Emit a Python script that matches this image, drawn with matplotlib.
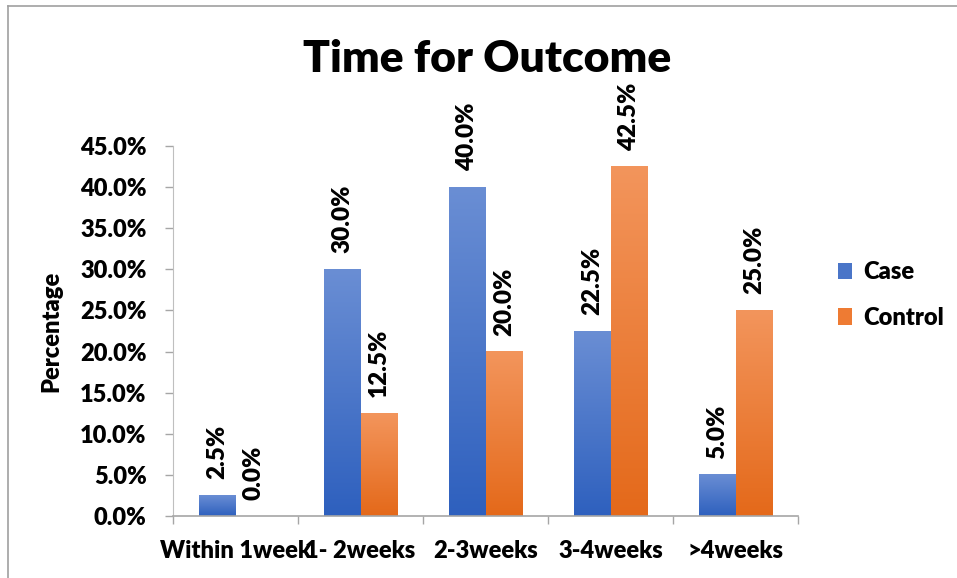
import numpy as np
import matplotlib
matplotlib.use("Agg")
import matplotlib.pyplot as plt
from matplotlib.colors import LinearSegmentedColormap
from matplotlib.patches import Patch
from matplotlib.lines import Line2D

categories = ["Within 1week", "1- 2weeks", "2-3weeks", "3-4weeks", ">4weeks"]
case_values = [0.025, 0.300, 0.400, 0.225, 0.050]
control_values = [0.000, 0.125, 0.200, 0.425, 0.250]
series_names = ["Case", "Control"]
y_ticks = [0.0, 0.05, 0.10, 0.15, 0.20, 0.25, 0.30, 0.35, 0.40, 0.45]

plt.rcParams["font.family"] = ["Lato", "DejaVu Sans"]
plt.rcParams["font.weight"] = "heavy"
W = "heavy"
FS = 17

fig = plt.figure(figsize=(9.57, 5.78), dpi=100)
ax = fig.add_axes([173 / 957, 1 - 516 / 578, (798 - 173) / 957, (516 - 146) / 578])

case_cmap = LinearSegmentedColormap.from_list("case", ["#2E60BE", "#6A8ED4"])
ctrl_cmap = LinearSegmentedColormap.from_list("ctrl", ["#E4691A", "#F3955C"])

bar_w = 0.292
x = np.arange(len(categories))
grad = np.linspace(0, 1, 256).reshape(-1, 1)

def gradient_bars(xs, heights, cmap):
    for xc, h in zip(xs, heights):
        if h <= 0:
            continue
        ax.imshow(grad, extent=[xc - bar_w / 2, xc + bar_w / 2, 0, h],
                  origin="lower", cmap=cmap, aspect="auto",
                  interpolation="bilinear", zorder=2)

gradient_bars(x - bar_w / 2, case_values, case_cmap)
gradient_bars(x + bar_w / 2, control_values, ctrl_cmap)

for xs, vals in ((x - bar_w / 2, case_values), (x + bar_w / 2, control_values)):
    for xc, v in zip(xs, vals):
        ax.annotate(f"{v * 100:.1f}%", xy=(xc, v), xytext=(0, 11.5),
                    textcoords="offset points", rotation=90,
                    ha="center", va="bottom", fontsize=FS + 0.5,
                    fontweight=W, color="black", zorder=3)

ax.set_xlim(-0.5, len(categories) - 0.5)
ax.set_ylim(0, 0.45)
ax.set_yticks(y_ticks)
ax.set_yticklabels([f"{t * 100:.1f}%" for t in y_ticks], fontweight=W)

ax.set_xticks(np.arange(-0.5, len(categories), 1))
ax.set_xticklabels([])
ax.set_xticks(x, minor=True)
ax.set_xticklabels(categories, minor=True, fontweight=W)
ax.tick_params(axis="x", which="major", length=6, width=1, color="#A6A6A6", direction="out")
ax.tick_params(axis="x", which="minor", length=0, pad=17, labelsize=FS)
ax.tick_params(axis="y", length=6, width=1, color="#A6A6A6", pad=13, labelsize=FS)

for side in ("top", "right"):
    ax.spines[side].set_visible(False)
ax.spines["left"].set_color("#BFBFBF")
ax.spines["bottom"].set_color("#A6A6A6")
ax.spines["bottom"].set_linewidth(1.2)

ax.set_ylabel("Percentage", fontsize=FS, fontweight=W)
ax.yaxis.set_label_coords(-0.1776, 0.5)

fig.text(487 / 957, 1 - 72 / 578, "Time for Outcome", ha="center", va="baseline",
         fontsize=32, fontweight=W)

handles = [Patch(facecolor="#4A75C8", edgecolor="none"),
           Patch(facecolor="#EE7B33", edgecolor="none")]
fig.legend(handles, series_names, loc="center left",
           bbox_to_anchor=(817 / 957, 1 - 295 / 578), frameon=False,
           handlelength=0.6, handleheight=0.7, handletextpad=0.45,
           labelspacing=1.0, prop={"size": FS, "weight": W})

# outer frame lines (top and left)
fig.add_artist(Line2D([8 / 957, 1], [1 - 6 / 578, 1 - 6 / 578], transform=fig.transFigure,
                      color="#A0A0A0", lw=1.2))
fig.add_artist(Line2D([8 / 957, 8 / 957], [0, 1 - 6 / 578], transform=fig.transFigure,
                      color="#A0A0A0", lw=1.2))

fig.savefig("out.png", dpi=100, facecolor="white")
